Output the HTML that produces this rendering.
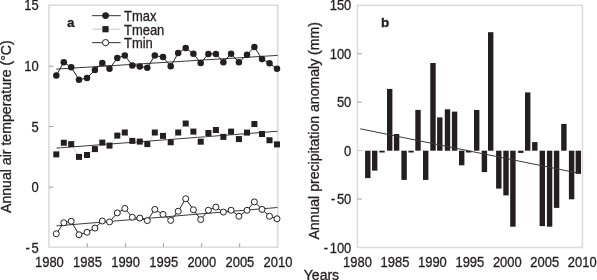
<!DOCTYPE html><html><head><meta charset="utf-8"><style>html,body{margin:0;padding:0;background:#fff;width:597px;height:280px;overflow:hidden}svg{display:block;will-change:transform}text{font-family:"Liberation Sans",sans-serif;fill:#231f20;stroke:#231f20;stroke-width:0.3px}</style></head><body>
<svg width="597" height="280" viewBox="0 0 597 280">
<rect x="0" y="0" width="597" height="280" fill="#fff"/>
<rect x="48.9" y="5.2" width="228.8" height="242" fill="none" stroke="#dcdcdc" stroke-width="1.6"/>
<text transform="translate(38.7,10.2) scale(0.92,1)" font-size="14.1" text-anchor="end">15</text>
<line x1="48.9" y1="66.2" x2="53.4" y2="66.2" stroke="#a0a0a0" stroke-width="1"/>
<text transform="translate(38.7,71.2) scale(0.92,1)" font-size="14.1" text-anchor="end">10</text>
<line x1="48.9" y1="126.6" x2="53.4" y2="126.6" stroke="#a0a0a0" stroke-width="1"/>
<text transform="translate(38.7,131.6) scale(0.92,1)" font-size="14.1" text-anchor="end">5</text>
<line x1="48.9" y1="187.2" x2="53.4" y2="187.2" stroke="#a0a0a0" stroke-width="1"/>
<text transform="translate(38.7,192.2) scale(0.92,1)" font-size="14.1" text-anchor="end">0</text>
<text transform="translate(38.7,253.3) scale(0.92,1)" font-size="14.1" text-anchor="end">-<tspan dx="1.7">5</tspan></text>
<text transform="translate(49.4,267.2) scale(0.92,1)" font-size="14.1" text-anchor="middle">1980</text>
<line x1="87.3" y1="247.2" x2="87.3" y2="243.2" stroke="#a0a0a0" stroke-width="1"/>
<text transform="translate(87.5,267.2) scale(0.92,1)" font-size="14.1" text-anchor="middle">1985</text>
<line x1="125.4" y1="247.2" x2="125.4" y2="243.2" stroke="#a0a0a0" stroke-width="1"/>
<text transform="translate(125.6,267.2) scale(0.92,1)" font-size="14.1" text-anchor="middle">1990</text>
<line x1="163.5" y1="247.2" x2="163.5" y2="243.2" stroke="#a0a0a0" stroke-width="1"/>
<text transform="translate(163.7,267.2) scale(0.92,1)" font-size="14.1" text-anchor="middle">1995</text>
<line x1="201.6" y1="247.2" x2="201.6" y2="243.2" stroke="#a0a0a0" stroke-width="1"/>
<text transform="translate(201.8,267.2) scale(0.92,1)" font-size="14.1" text-anchor="middle">2000</text>
<line x1="239.7" y1="247.2" x2="239.7" y2="243.2" stroke="#a0a0a0" stroke-width="1"/>
<text transform="translate(239.9,267.2) scale(0.92,1)" font-size="14.1" text-anchor="middle">2005</text>
<text transform="translate(278,267.2) scale(0.92,1)" font-size="14.1" text-anchor="middle">2010</text>
<text transform="translate(10.7,213) rotate(-90)" font-size="14.12">Annual air temperature (°C)</text>
<text x="66.9" y="27.1" font-size="13.5" font-weight="bold">a</text>
<line x1="56.3" y1="69.1" x2="277.7" y2="55.4" stroke="#3a3a3a" stroke-width="1"/>
<line x1="56.5" y1="148.1" x2="277.5" y2="131.25" stroke="#3a3a3a" stroke-width="1"/>
<line x1="56.5" y1="225.9" x2="277.5" y2="207.5" stroke="#3a3a3a" stroke-width="1"/>
<polyline fill="none" stroke="#231f20" stroke-width="1" points="56.3,75.6 63.8,62.2 71.2,67.3 79,79.7 87,78 94.9,69.9 102.3,63 109.5,68.8 117.3,57.9 124.8,55.5 132.3,65.4 139.8,66.4 147.3,67.8 154.8,55.5 163,57.1 170.7,66.3 178.2,53.1 185.7,48 193.4,53.7 200.7,63 208.4,53.9 215.9,53.9 223.4,62.2 231.1,53.7 238.9,62.3 247,54.7 254.4,47 262,59 269.5,63.2 277,68.8"/>
<polyline fill="none" stroke="#c8c8c8" stroke-width="0.8" points="56.3,154.4 63.8,142.75 71.2,144.1 79,156.9 87,155 94.9,149.1 102.3,142.6 109.5,145.6 117.3,135.6 124.8,132.5 132.3,140.9 139.8,141.6 147.3,144.1 154.8,132.5 163,135.9 170.7,142.25 178.2,132.5 185.7,123.5 193.4,131.6 200.7,141.7 208.4,133 215.9,130 223.4,136.9 231.1,131.6 238.9,139.1 247,132.6 254.4,124 262,134 269.5,140.25 277,144.4"/>
<polyline fill="none" stroke="#231f20" stroke-width="1" points="56.3,233.75 63.8,222.75 71.2,221.25 79,234.75 87,232.25 94.9,228.1 102.3,221 109.5,221.9 117.3,212.9 124.8,208.5 132.3,217.25 139.8,218.1 147.3,220.6 154.8,209.4 163,214.4 170.7,220.4 178.2,211.25 185.7,198.75 193.4,209.75 200.7,219.6 208.4,210.25 215.9,207.1 223.4,212.1 231.1,210.25 238.9,216.25 247,210.3 254.4,201.9 262,209.4 269.5,216.25 277,218.75"/>
<circle cx="56.3" cy="75.6" r="3.25" fill="#231f20"/>
<circle cx="63.8" cy="62.2" r="3.25" fill="#231f20"/>
<circle cx="71.2" cy="67.3" r="3.25" fill="#231f20"/>
<circle cx="79" cy="79.7" r="3.25" fill="#231f20"/>
<circle cx="87" cy="78" r="3.25" fill="#231f20"/>
<circle cx="94.9" cy="69.9" r="3.25" fill="#231f20"/>
<circle cx="102.3" cy="63" r="3.25" fill="#231f20"/>
<circle cx="109.5" cy="68.8" r="3.25" fill="#231f20"/>
<circle cx="117.3" cy="57.9" r="3.25" fill="#231f20"/>
<circle cx="124.8" cy="55.5" r="3.25" fill="#231f20"/>
<circle cx="132.3" cy="65.4" r="3.25" fill="#231f20"/>
<circle cx="139.8" cy="66.4" r="3.25" fill="#231f20"/>
<circle cx="147.3" cy="67.8" r="3.25" fill="#231f20"/>
<circle cx="154.8" cy="55.5" r="3.25" fill="#231f20"/>
<circle cx="163" cy="57.1" r="3.25" fill="#231f20"/>
<circle cx="170.7" cy="66.3" r="3.25" fill="#231f20"/>
<circle cx="178.2" cy="53.1" r="3.25" fill="#231f20"/>
<circle cx="185.7" cy="48" r="3.25" fill="#231f20"/>
<circle cx="193.4" cy="53.7" r="3.25" fill="#231f20"/>
<circle cx="200.7" cy="63" r="3.25" fill="#231f20"/>
<circle cx="208.4" cy="53.9" r="3.25" fill="#231f20"/>
<circle cx="215.9" cy="53.9" r="3.25" fill="#231f20"/>
<circle cx="223.4" cy="62.2" r="3.25" fill="#231f20"/>
<circle cx="231.1" cy="53.7" r="3.25" fill="#231f20"/>
<circle cx="238.9" cy="62.3" r="3.25" fill="#231f20"/>
<circle cx="247" cy="54.7" r="3.25" fill="#231f20"/>
<circle cx="254.4" cy="47" r="3.25" fill="#231f20"/>
<circle cx="262" cy="59" r="3.25" fill="#231f20"/>
<circle cx="269.5" cy="63.2" r="3.25" fill="#231f20"/>
<circle cx="277" cy="68.8" r="3.25" fill="#231f20"/>
<rect x="53.3" y="151.4" width="6" height="6" fill="#231f20"/>
<rect x="60.8" y="139.75" width="6" height="6" fill="#231f20"/>
<rect x="68.2" y="141.1" width="6" height="6" fill="#231f20"/>
<rect x="76" y="153.9" width="6" height="6" fill="#231f20"/>
<rect x="84" y="152" width="6" height="6" fill="#231f20"/>
<rect x="91.9" y="146.1" width="6" height="6" fill="#231f20"/>
<rect x="99.3" y="139.6" width="6" height="6" fill="#231f20"/>
<rect x="106.5" y="142.6" width="6" height="6" fill="#231f20"/>
<rect x="114.3" y="132.6" width="6" height="6" fill="#231f20"/>
<rect x="121.8" y="129.5" width="6" height="6" fill="#231f20"/>
<rect x="129.3" y="137.9" width="6" height="6" fill="#231f20"/>
<rect x="136.8" y="138.6" width="6" height="6" fill="#231f20"/>
<rect x="144.3" y="141.1" width="6" height="6" fill="#231f20"/>
<rect x="151.8" y="129.5" width="6" height="6" fill="#231f20"/>
<rect x="160" y="132.9" width="6" height="6" fill="#231f20"/>
<rect x="167.7" y="139.25" width="6" height="6" fill="#231f20"/>
<rect x="175.2" y="129.5" width="6" height="6" fill="#231f20"/>
<rect x="182.7" y="120.5" width="6" height="6" fill="#231f20"/>
<rect x="190.4" y="128.6" width="6" height="6" fill="#231f20"/>
<rect x="197.7" y="138.7" width="6" height="6" fill="#231f20"/>
<rect x="205.4" y="130" width="6" height="6" fill="#231f20"/>
<rect x="212.9" y="127" width="6" height="6" fill="#231f20"/>
<rect x="220.4" y="133.9" width="6" height="6" fill="#231f20"/>
<rect x="228.1" y="128.6" width="6" height="6" fill="#231f20"/>
<rect x="235.9" y="136.1" width="6" height="6" fill="#231f20"/>
<rect x="244" y="129.6" width="6" height="6" fill="#231f20"/>
<rect x="251.4" y="121" width="6" height="6" fill="#231f20"/>
<rect x="259" y="131" width="6" height="6" fill="#231f20"/>
<rect x="266.5" y="137.25" width="6" height="6" fill="#231f20"/>
<rect x="274" y="141.4" width="6" height="6" fill="#231f20"/>
<circle cx="56.3" cy="233.75" r="3" fill="#fff" stroke="#231f20" stroke-width="1"/>
<circle cx="63.8" cy="222.75" r="3" fill="#fff" stroke="#231f20" stroke-width="1"/>
<circle cx="71.2" cy="221.25" r="3" fill="#fff" stroke="#231f20" stroke-width="1"/>
<circle cx="79" cy="234.75" r="3" fill="#fff" stroke="#231f20" stroke-width="1"/>
<circle cx="87" cy="232.25" r="3" fill="#fff" stroke="#231f20" stroke-width="1"/>
<circle cx="94.9" cy="228.1" r="3" fill="#fff" stroke="#231f20" stroke-width="1"/>
<circle cx="102.3" cy="221" r="3" fill="#fff" stroke="#231f20" stroke-width="1"/>
<circle cx="109.5" cy="221.9" r="3" fill="#fff" stroke="#231f20" stroke-width="1"/>
<circle cx="117.3" cy="212.9" r="3" fill="#fff" stroke="#231f20" stroke-width="1"/>
<circle cx="124.8" cy="208.5" r="3" fill="#fff" stroke="#231f20" stroke-width="1"/>
<circle cx="132.3" cy="217.25" r="3" fill="#fff" stroke="#231f20" stroke-width="1"/>
<circle cx="139.8" cy="218.1" r="3" fill="#fff" stroke="#231f20" stroke-width="1"/>
<circle cx="147.3" cy="220.6" r="3" fill="#fff" stroke="#231f20" stroke-width="1"/>
<circle cx="154.8" cy="209.4" r="3" fill="#fff" stroke="#231f20" stroke-width="1"/>
<circle cx="163" cy="214.4" r="3" fill="#fff" stroke="#231f20" stroke-width="1"/>
<circle cx="170.7" cy="220.4" r="3" fill="#fff" stroke="#231f20" stroke-width="1"/>
<circle cx="178.2" cy="211.25" r="3" fill="#fff" stroke="#231f20" stroke-width="1"/>
<circle cx="185.7" cy="198.75" r="3" fill="#fff" stroke="#231f20" stroke-width="1"/>
<circle cx="193.4" cy="209.75" r="3" fill="#fff" stroke="#231f20" stroke-width="1"/>
<circle cx="200.7" cy="219.6" r="3" fill="#fff" stroke="#231f20" stroke-width="1"/>
<circle cx="208.4" cy="210.25" r="3" fill="#fff" stroke="#231f20" stroke-width="1"/>
<circle cx="215.9" cy="207.1" r="3" fill="#fff" stroke="#231f20" stroke-width="1"/>
<circle cx="223.4" cy="212.1" r="3" fill="#fff" stroke="#231f20" stroke-width="1"/>
<circle cx="231.1" cy="210.25" r="3" fill="#fff" stroke="#231f20" stroke-width="1"/>
<circle cx="238.9" cy="216.25" r="3" fill="#fff" stroke="#231f20" stroke-width="1"/>
<circle cx="247" cy="210.3" r="3" fill="#fff" stroke="#231f20" stroke-width="1"/>
<circle cx="254.4" cy="201.9" r="3" fill="#fff" stroke="#231f20" stroke-width="1"/>
<circle cx="262" cy="209.4" r="3" fill="#fff" stroke="#231f20" stroke-width="1"/>
<circle cx="269.5" cy="216.25" r="3" fill="#fff" stroke="#231f20" stroke-width="1"/>
<circle cx="277" cy="218.75" r="3" fill="#fff" stroke="#231f20" stroke-width="1"/>
<line x1="92" y1="15.6" x2="120.7" y2="15.6" stroke="#555" stroke-width="1.2"/>
<circle cx="105.6" cy="15.6" r="3.4" fill="#231f20"/>
<line x1="92.5" y1="29.2" x2="120.2" y2="29.2" stroke="#c8c8c8" stroke-width="1"/>
<rect x="102.4" y="26.1" width="6.2" height="6.2" fill="#231f20"/>
<line x1="92" y1="42.6" x2="120.7" y2="42.6" stroke="#555" stroke-width="1.2"/>
<circle cx="105.6" cy="42.6" r="3.1" fill="#fff" stroke="#231f20" stroke-width="1"/>
<text transform="translate(124,20.9) scale(0.92,1)" font-size="14.1" text-anchor="start">Tmax</text>
<text transform="translate(124,34.5) scale(0.92,1)" font-size="14.1" text-anchor="start">Tmean</text>
<text transform="translate(124,47.6) scale(0.92,1)" font-size="14.1" text-anchor="start">Tmin</text>
<rect x="357.4" y="5.3" width="225" height="242.2" fill="none" stroke="#dcdcdc" stroke-width="1.6"/>
<text transform="translate(351.3,10.3) scale(0.92,1)" font-size="14.1" text-anchor="end">150</text>
<line x1="357.4" y1="53.74" x2="361.9" y2="53.74" stroke="#a0a0a0" stroke-width="1"/>
<text transform="translate(351.3,58.74) scale(0.92,1)" font-size="14.1" text-anchor="end">100</text>
<line x1="357.4" y1="102.18" x2="361.9" y2="102.18" stroke="#a0a0a0" stroke-width="1"/>
<text transform="translate(351.3,107.18) scale(0.92,1)" font-size="14.1" text-anchor="end">50</text>
<line x1="357.4" y1="150.42" x2="363.59999999999997" y2="150.42" stroke="#cfcfcf" stroke-width="1.1"/>
<text transform="translate(351.3,155.62) scale(0.92,1)" font-size="14.1" text-anchor="end">0</text>
<line x1="357.4" y1="199.06" x2="361.9" y2="199.06" stroke="#a0a0a0" stroke-width="1"/>
<text transform="translate(351.3,204.46) scale(0.92,1)" font-size="14.1" text-anchor="end">-<tspan dx="1.7">50</tspan></text>
<text transform="translate(351.3,253.2) scale(0.92,1)" font-size="14.1" text-anchor="end">-<tspan dx="1.7">100</tspan></text>
<text transform="translate(357.5,267.2) scale(0.92,1)" font-size="14.1" text-anchor="middle">1980</text>
<text transform="translate(394.95,267.2) scale(0.92,1)" font-size="14.1" text-anchor="middle">1985</text>
<text transform="translate(432.4,267.2) scale(0.92,1)" font-size="14.1" text-anchor="middle">1990</text>
<text transform="translate(469.85,267.2) scale(0.92,1)" font-size="14.1" text-anchor="middle">1995</text>
<text transform="translate(507.3,267.2) scale(0.92,1)" font-size="14.1" text-anchor="middle">2000</text>
<text transform="translate(544.75,267.2) scale(0.92,1)" font-size="14.1" text-anchor="middle">2005</text>
<text transform="translate(582.2,267.2) scale(0.92,1)" font-size="14.1" text-anchor="middle">2010</text>
<text transform="translate(319.1,239.6) rotate(-90)" font-size="14.08">Annual precipitation anomaly (mm)</text>
<text x="381.1" y="27.1" font-size="13.5" font-weight="bold">b</text>
<text x="303.8" y="279.5" font-size="14">Years</text>
<rect x="365.1" y="150.7" width="5.4" height="27.4" fill="#231f20"/>
<rect x="372" y="150.7" width="5.4" height="19.9" fill="#231f20"/>
<rect x="379.3" y="150.7" width="5.4" height="1.8" fill="#231f20"/>
<rect x="387" y="88.9" width="5.4" height="61.8" fill="#231f20"/>
<rect x="393.9" y="134" width="5.4" height="16.7" fill="#231f20"/>
<rect x="401.4" y="150.7" width="5.4" height="29.2" fill="#231f20"/>
<rect x="408.4" y="150.7" width="5.4" height="1.8" fill="#231f20"/>
<rect x="415.3" y="109.9" width="5.4" height="40.8" fill="#231f20"/>
<rect x="423" y="150.7" width="5.4" height="29.2" fill="#231f20"/>
<rect x="430.3" y="63" width="5.4" height="87.7" fill="#231f20"/>
<rect x="437.1" y="117.4" width="5.4" height="33.3" fill="#231f20"/>
<rect x="444.8" y="109.3" width="5.4" height="41.4" fill="#231f20"/>
<rect x="451.9" y="111.6" width="5.4" height="39.1" fill="#231f20"/>
<rect x="459" y="150.7" width="5.4" height="14.6" fill="#231f20"/>
<rect x="466" y="150.7" width="5.4" height="1.8" fill="#231f20"/>
<rect x="474" y="110" width="5.4" height="40.7" fill="#231f20"/>
<rect x="481.7" y="150.7" width="5.4" height="21.4" fill="#231f20"/>
<rect x="488" y="32.2" width="5.4" height="118.5" fill="#231f20"/>
<rect x="496.1" y="150.7" width="5.4" height="37.9" fill="#231f20"/>
<rect x="503.3" y="150.7" width="5.4" height="44.7" fill="#231f20"/>
<rect x="510.2" y="150.7" width="5.4" height="76" fill="#231f20"/>
<rect x="518.1" y="150.7" width="5.4" height="2.2" fill="#231f20"/>
<rect x="525" y="92.4" width="5.4" height="58.3" fill="#231f20"/>
<rect x="532.1" y="142.1" width="5.4" height="8.6" fill="#231f20"/>
<rect x="539.6" y="150.7" width="5.4" height="75.4" fill="#231f20"/>
<rect x="546.9" y="150.7" width="5.4" height="76" fill="#231f20"/>
<rect x="553.9" y="150.7" width="5.4" height="57.2" fill="#231f20"/>
<rect x="561.2" y="123.9" width="5.4" height="26.8" fill="#231f20"/>
<rect x="568.9" y="150.7" width="5.4" height="48.6" fill="#231f20"/>
<rect x="575.6" y="150.7" width="5.4" height="23.2" fill="#231f20"/>
<line x1="360.2" y1="128.8" x2="580.5" y2="173.6" stroke="#3a3a3a" stroke-width="1"/>
</svg></body></html>
